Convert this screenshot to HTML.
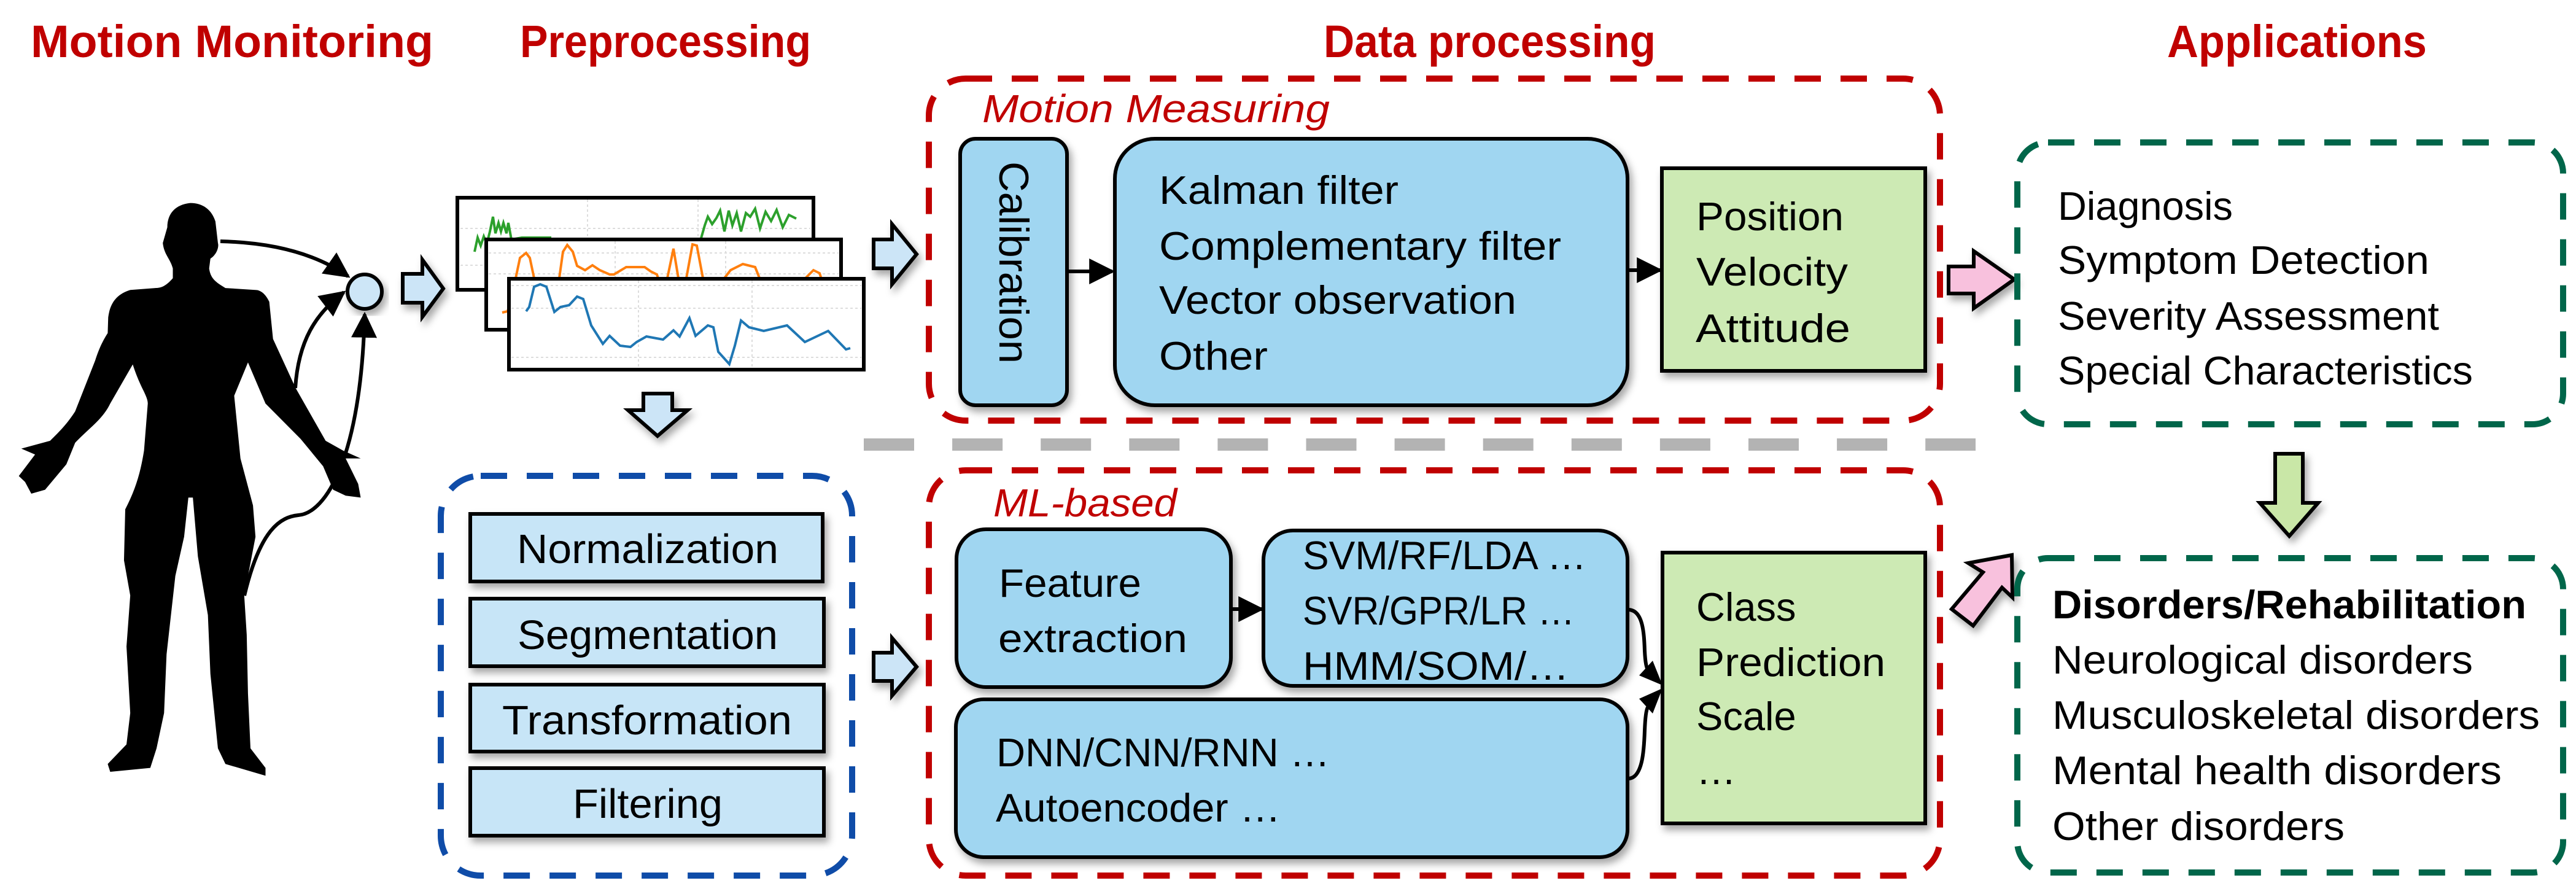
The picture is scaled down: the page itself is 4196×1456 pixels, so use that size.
<!DOCTYPE html>
<html><head><meta charset="utf-8"><style>
html,body{margin:0;padding:0;background:#fff}
svg{display:block}
text{font-family:"Liberation Sans",sans-serif}
</style></head><body>
<svg width="4196" height="1456" viewBox="0 0 4196 1456" xmlns="http://www.w3.org/2000/svg">
<defs>
<filter id="sh" x="-10%" y="-10%" width="130%" height="130%"><feDropShadow dx="5" dy="8" stdDeviation="6" flood-color="#000" flood-opacity="0.35"/></filter>
<marker id="ah" viewBox="0 0 10 10" refX="9" refY="5" markerWidth="7" markerHeight="7" markerUnits="strokeWidth" orient="auto"><path d="M0,0 L10,5 L0,10 z" fill="#000"/></marker>
</defs>

<g fill="#c00000" font-weight="bold" font-size="74">
<text x="50" y="93" textLength="656" lengthAdjust="spacingAndGlyphs">Motion Monitoring</text>
<text x="847" y="93" textLength="474" lengthAdjust="spacingAndGlyphs">Preprocessing</text>
<text x="2156" y="93" textLength="541" lengthAdjust="spacingAndGlyphs">Data processing</text>
<text x="3530" y="93" textLength="423" lengthAdjust="spacingAndGlyphs">Applications</text>
</g>

<g transform="translate(0,300) scale(0.408,0.638)">
<path fill="#000" d="M760,48 C700,52 668,75 668,110 L650,150 C655,180 680,190 690,215 L690,240 C660,262 640,265 620,265 L520,270 C470,280 440,300 432,340 L430,380 C410,400 395,420 380,450 L300,580 C270,610 240,630 200,655 L85,675 L140,690 L75,745 L100,760 L125,790 L180,780 L265,715 L300,660 C360,620 410,600 440,560 L530,460 C560,520 590,540 590,560 L575,680 C560,740 540,780 500,830 L495,960 L520,1050 L505,1180 L520,1350 L505,1430 L430,1480 L440,1500 L600,1490 L625,1440 L655,1350 L665,1200 L700,1000 L735,900 L752,800 L770,800 L790,950 L830,1100 L840,1250 L870,1440 L900,1480 L1060,1510 L1060,1490 L1000,1440 L990,1300 L985,1150 L975,1050 L1020,900 L1010,820 L960,700 L935,540 L990,455 L1060,560 L1200,650 L1290,720 L1330,780 L1380,795 L1440,800 L1430,765 L1380,700 L1440,700 L1370,680 L1300,655 L1180,520 L1090,395 L1075,300 C1060,280 1040,270 1020,270 L900,265 C860,250 840,240 835,215 L840,190 C865,180 875,160 870,150 L860,95 C845,65 810,48 760,48 Z"/>
</g>
<g fill="none" stroke="#000" stroke-width="6">
<path d="M359,393 Q490,396 567,450" marker-end="url(#ah)"/>
<path d="M481,632 C486,555 514,511 560,476" marker-end="url(#ah)"/>
<path d="M398,970 C424,861 457,842 486,839 C530,836 588,747 594,512" marker-end="url(#ah)"/>
</g>
<circle cx="594" cy="475" r="28" fill="#cde6f7" stroke="#000" stroke-width="6" filter="url(#sh)"/>

<g fill="#cce5f7" stroke="#000" stroke-width="6" filter="url(#sh)">
<polygon points="656,446 688,446 688,423 722,470 688,516 688,493 656,493"/>
<polygon points="1423,390 1453,390 1453,365 1493,414 1453,463 1453,437 1423,437"/>
<polygon points="1423,1063 1453,1063 1453,1039 1493,1086 1453,1133 1453,1109 1423,1109"/>
<polygon points="1048,641 1095,641 1095,668 1120,668 1071,710 1023,668 1048,668"/>
</g>
<g fill="#f8c1dd" stroke="#000" stroke-width="6" filter="url(#sh)">
<polygon points="3174,434 3215,434 3215,409 3281,455 3215,502 3215,478 3174,478"/>
<polygon points="3277,904 3206,917 3230,932 3179,992 3214,1019 3261,957 3278,973"/>
</g>
<polygon points="3706,739 3751,739 3751,819 3776,819 3729,873 3681,819 3706,819" fill="#c9e7a7" stroke="#000" stroke-width="6" filter="url(#sh)"/>

<g>
<rect x="745" y="322" width="580" height="150" fill="#fff" stroke="#000" stroke-width="6"/>
<g stroke="#ddd" stroke-width="2" stroke-dasharray="4 4"><line x1="957" y1="325" x2="957" y2="470"/><line x1="1137" y1="325" x2="1137" y2="470"/><line x1="750" y1="372" x2="1320" y2="372"/><line x1="750" y1="432" x2="1320" y2="432"/></g>
<polyline fill="none" stroke="#2ca02c" stroke-width="4" points="773,410 778,387 783,400 788,385 793,397 798,377 803,353 807,380 812,363 816,377 820,363 825,380 828,363 833,390 850,387 875,387 898,387"/>
<polyline fill="none" stroke="#2ca02c" stroke-width="4" points="1142,388 1148,367 1153,353 1160,365 1167,355 1173,343 1180,377 1187,343 1193,367 1200,347 1207,377 1215,347 1222,353 1230,340 1238,372 1247,345 1256,360 1265,342 1275,370 1285,350 1297,356"/>
<rect x="792" y="390" width="578" height="147" fill="#fff" stroke="#000" stroke-width="6"/>
<g stroke="#ddd" stroke-width="2" stroke-dasharray="4 4"><line x1="1002" y1="393" x2="1002" y2="535"/><line x1="1182" y1="393" x2="1182" y2="535"/><line x1="796" y1="412" x2="1366" y2="412"/><line x1="796" y1="446" x2="1366" y2="446"/></g>
<polyline fill="none" stroke="#ff7f0e" stroke-width="4" points="818,509 827,507 840,453 847,420 857,412 863,420 870,453 880,460 910,460 917,410 924,399 933,410 940,433 953,440 965,432 977,440 993,447 1000,447 1020,435 1037,435 1050,435 1060,442 1070,447 1072,453 1087,453 1097,405 1105,453 1118,453 1128,398 1135,400 1145,453 1180,453 1190,440 1210,430 1230,435 1240,460 1255,460 1270,455 1290,460 1310,455 1325,440 1335,445 1340,460"/>
<rect x="829" y="454" width="578" height="148" fill="#fff" stroke="#000" stroke-width="6"/>
<g stroke="#ddd" stroke-width="2" stroke-dasharray="4 4"><line x1="1040" y1="457" x2="1040" y2="600"/><line x1="1225" y1="457" x2="1225" y2="600"/><line x1="833" y1="465" x2="1403" y2="465"/><line x1="833" y1="502" x2="1403" y2="502"/><line x1="833" y1="582" x2="1403" y2="582"/></g>
<polyline fill="none" stroke="#1f77b4" stroke-width="4" points="857,507 862,500 870,467 880,463 890,467 903,508 913,500 927,497 940,483 950,487 963,530 982,560 993,547 1010,563 1027,565 1037,557 1053,548 1080,553 1097,538 1107,548 1123,518 1133,547 1153,530 1162,533 1170,573 1188,593 1197,563 1207,522 1220,533 1244,539 1282,530 1311,557 1349,539 1378,569 1385,567"/>
</g>

<rect x="718" y="775" width="670" height="651" rx="65" fill="none" stroke="#0f4ca8" stroke-width="10" stroke-dasharray="43 32"/>
<g fill="#c7e5f7" stroke="#000" stroke-width="6" filter="url(#sh)">
<rect x="766" y="837" width="574" height="110"/>
<rect x="766" y="975" width="576" height="110"/>
<rect x="766" y="1115" width="576" height="109"/>
<rect x="766" y="1251" width="576" height="110"/>
</g>
<g font-size="67" fill="#000">
<text x="842" y="917" textLength="426" lengthAdjust="spacingAndGlyphs">Normalization</text>
<text x="843" y="1057" textLength="424" lengthAdjust="spacingAndGlyphs">Segmentation</text>
<text x="818" y="1196" textLength="472" lengthAdjust="spacingAndGlyphs">Transformation</text>
<text x="933" y="1332" textLength="244" lengthAdjust="spacingAndGlyphs">Filtering</text>
</g>

<line x1="1407" y1="724" x2="3218" y2="724" stroke="#b3b3b3" stroke-width="20" stroke-dasharray="82 62.1"/>

<rect x="1513" y="128" width="1647" height="557" rx="60" fill="none" stroke="#c00000" stroke-width="10" stroke-dasharray="43 32"/>
<rect x="1513" y="766" width="1647" height="660" rx="60" fill="none" stroke="#c00000" stroke-width="10" stroke-dasharray="43 32"/>
<g fill="#c00000" font-style="italic" font-size="64">
<text x="1600" y="199" textLength="566" lengthAdjust="spacingAndGlyphs">Motion Measuring</text>
<text x="1618" y="841" textLength="299" lengthAdjust="spacingAndGlyphs">ML-based</text>
</g>

<g stroke="#000" stroke-width="6" filter="url(#sh)">
<rect x="1564" y="226" width="174" height="434" rx="25" fill="#a0d6f1"/>
<rect x="1816" y="226" width="835" height="434" rx="65" fill="#a0d6f1"/>
<rect x="2707" y="274" width="429" height="330" fill="#cdeab4"/>
</g>
<text transform="translate(1628,263) rotate(90)" font-size="68" textLength="329" lengthAdjust="spacingAndGlyphs">Calibration</text>
<g font-size="65">
<text x="1888" y="332" textLength="390" lengthAdjust="spacingAndGlyphs">Kalman filter</text>
<text x="1888" y="423" textLength="655" lengthAdjust="spacingAndGlyphs">Complementary filter</text>
<text x="1888" y="511" textLength="582" lengthAdjust="spacingAndGlyphs">Vector observation</text>
<text x="1888" y="602" textLength="177" lengthAdjust="spacingAndGlyphs">Other</text>
<text x="2763" y="375" textLength="240" lengthAdjust="spacingAndGlyphs">Position</text>
<text x="2763" y="465" textLength="247" lengthAdjust="spacingAndGlyphs">Velocity</text>
<text x="2762" y="557" textLength="252" lengthAdjust="spacingAndGlyphs">Attitude</text>
</g>
<g stroke="#000" stroke-width="6" fill="none">
<line x1="1738" y1="442" x2="1812" y2="442" marker-end="url(#ah)"/>
<line x1="2651" y1="440" x2="2704" y2="440" marker-end="url(#ah)"/>
<line x1="2005" y1="992" x2="2055" y2="992" marker-end="url(#ah)"/>
</g>

<g stroke="#000" stroke-width="6" filter="url(#sh)">
<rect x="1558" y="862" width="447" height="257" rx="48" fill="#a0d6f1"/>
<rect x="2058" y="864" width="593" height="253" rx="48" fill="#a0d6f1"/>
<rect x="1557" y="1139" width="1094" height="257" rx="45" fill="#a0d6f1"/>
<rect x="2708" y="900" width="428" height="441" fill="#cdeab4"/>
</g>
<g fill="none" stroke="#000" stroke-width="6">
<path d="M2652,993 C2676,993 2678,1030 2679,1060 C2680,1080 2682,1088 2684,1090"/>
<path d="M2652,1268 C2676,1268 2678,1220 2679,1190 C2680,1165 2682,1155 2684,1152"/>
</g>
<polygon points="2708,1116 2670,1100 2692,1076" fill="#000"/>
<polygon points="2708,1121 2670,1138 2692,1162" fill="#000"/>
<g font-size="65">
<text x="1627" y="972" textLength="232" lengthAdjust="spacingAndGlyphs">Feature</text>
<text x="1626" y="1062" textLength="308" lengthAdjust="spacingAndGlyphs">extraction</text>
<text x="2122" y="927" textLength="462" lengthAdjust="spacingAndGlyphs">SVM/RF/LDA …</text>
<text x="2122" y="1017" textLength="443" lengthAdjust="spacingAndGlyphs">SVR/GPR/LR …</text>
<text x="2122" y="1107" textLength="434" lengthAdjust="spacingAndGlyphs">HMM/SOM/…</text>
<text x="1623" y="1248" textLength="543" lengthAdjust="spacingAndGlyphs">DNN/CNN/RNN …</text>
<text x="1622" y="1338" textLength="464" lengthAdjust="spacingAndGlyphs">Autoencoder …</text>
<text x="2763" y="1011">Class</text>
<text x="2763" y="1101" textLength="308" lengthAdjust="spacingAndGlyphs">Prediction</text>
<text x="2763" y="1189">Scale</text>
<text x="2763" y="1277">…</text>
</g>

<rect x="3286" y="232" width="889" height="459" rx="50" fill="none" stroke="#00664a" stroke-width="10" stroke-dasharray="43 32"/>
<rect x="3286" y="909" width="889" height="512" rx="50" fill="none" stroke="#00664a" stroke-width="10" stroke-dasharray="43 32"/>
<g font-size="65">
<text x="3352" y="358" textLength="285" lengthAdjust="spacingAndGlyphs">Diagnosis</text>
<text x="3352" y="446" textLength="605" lengthAdjust="spacingAndGlyphs">Symptom Detection</text>
<text x="3352" y="537" textLength="621" lengthAdjust="spacingAndGlyphs">Severity Assessment</text>
<text x="3352" y="626" textLength="676" lengthAdjust="spacingAndGlyphs">Special Characteristics</text>
<text x="3343" y="1007" font-weight="bold" textLength="772" lengthAdjust="spacingAndGlyphs">Disorders/Rehabilitation</text>
<text x="3343" y="1097" textLength="685" lengthAdjust="spacingAndGlyphs">Neurological disorders</text>
<text x="3343" y="1187" textLength="794" lengthAdjust="spacingAndGlyphs">Musculoskeletal disorders</text>
<text x="3343" y="1277" textLength="732" lengthAdjust="spacingAndGlyphs">Mental health disorders</text>
<text x="3343" y="1368" textLength="476" lengthAdjust="spacingAndGlyphs">Other disorders</text>
</g>
</svg>
</body></html>
